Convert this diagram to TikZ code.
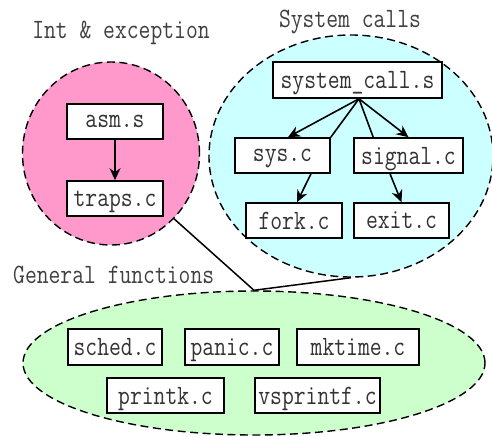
\documentclass[tikz,border=0pt]{standalone}
\usepackage{fontspec}
\setmonofont[FakeStretch=0.82]{Latin Modern Mono}
\usetikzlibrary{arrows.meta,shapes.geometric,calc}
\definecolor{intpink}{HTML}{FF99CC}
\definecolor{syscyan}{HTML}{CCFFFF}
\definecolor{gengreen}{HTML}{CCFFCC}
\tikzset{
  region/.style={ellipse, draw=black, dash pattern=on 8pt off 4.5pt, line width=1.4pt, inner sep=0pt},
  file/.style={rectangle, draw=black, fill=white, line width=1.6pt, inner sep=0pt,
    minimum height=35pt, text depth=0pt, font=\fontsize{28}{28}\ttfamily, text=black!80},
  grouptitle/.style={font=\fontsize{28}{28}\ttfamily, text=black!75, inner sep=0pt},
  flow/.style={line width=1.6pt, -{Stealth[length=12pt,width=11pt]}},
  plain/.style={line width=1.6pt},
  link/.style={line width=1.5pt}
}
\begin{document}
\begin{tikzpicture}[x=1pt,y=-1pt]
\useasboundingbox (0,0) rectangle (492,436);

% group regions
\node[region, fill=intpink, minimum width=177pt, minimum height=183pt] (intgrp) at (111,153.5) {};
\node[region, fill=syscyan, minimum width=284pt, minimum height=242pt] (sysgrp) at (351,156) {};
\node[region, fill=gengreen, minimum width=462pt, minimum height=144pt] (gengrp) at (254,363) {};

% group titles
\node[grouptitle] (inttitle) at (121,33) {Int \& exception};
\node[grouptitle] (systitle) at (350,22) {System calls};
\node[grouptitle, anchor=west] (gentitle) at (13,275) {General functions};

% link between the groups
\draw[link] (intgrp.-46) -- (gengrp.north) -- (sysgrp.south);

% interrupt and exception files
\node[file, minimum width=96pt] (asm) at (115,121.5) {asm.s};
\node[file, minimum width=96pt] (traps) at (115,198.5) {traps.c};
\draw[flow] (asm.south) -- (traps.north);

% system call files
\node[file, minimum width=169pt, minimum height=36pt] (sc) at (357.5,80) {system\_call.s};
\node[file, minimum width=95pt] (sys) at (282.5,155.5) {sys.c};
\node[file, minimum width=109pt] (signal) at (408.5,155.5) {signal.c};
\node[file, minimum width=96pt] (fork) at (294,220.5) {fork.c};
\node[file, minimum width=95pt] (exit) at (401.5,220.5) {exit.c};
\draw[flow] ($(sc.south)+(1.5,0)$) -- ($(sys.north)+(5.5,0)$);
\draw[plain] ($(sc.south)+(1.5,0)$) -- (sys.north east);
\draw[plain] ($(sc.south)+(1.5,0)$) -- ($(signal.north west)+(20,0)$);
\draw[flow] ($(sc.south)+(1.5,0)$) -- (signal.north);
\draw[flow] ($(sys.south)+(28.5,0)$) -- ($(fork.north)+(3,0)$);
\draw[flow] ($(signal.south)+(-18.5,0)$) -- (exit.north);

% general function files
\node[file, minimum width=94pt, minimum height=36pt] (sched) at (115,347) {sched.c};
\node[file, minimum width=94pt, minimum height=36pt] (panic) at (232,347) {panic.c};
\node[file, minimum width=122pt, minimum height=36pt] (mktime) at (358,347) {mktime.c};
\node[file, minimum width=117pt] (printk) at (165.5,395.5) {printk.c};
\node[file, minimum width=125pt] (vsprintf) at (317.5,395.5) {vsprintf.c};
\end{tikzpicture}
\end{document}
